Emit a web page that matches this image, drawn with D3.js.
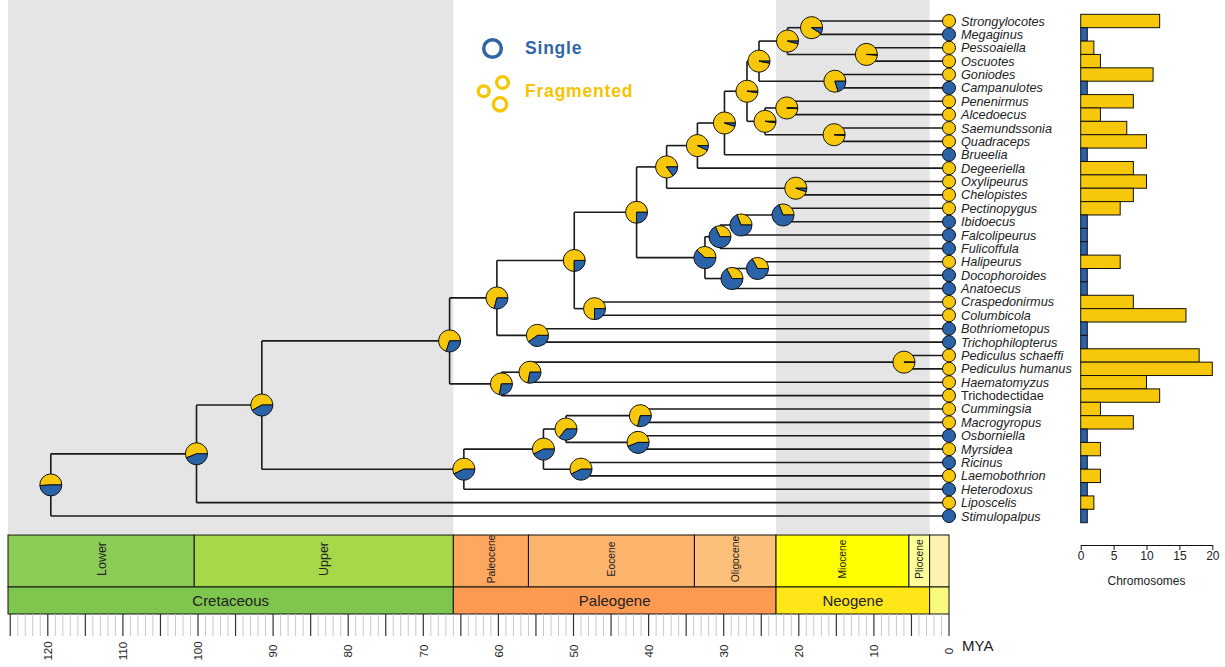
<!DOCTYPE html>
<html>
<head>
<meta charset="utf-8">
<script src="https://cdn.jsdelivr.net/npm/d3@7"></script>
<style>
  body { margin: 0; background: #fff; }
  svg { font-family: "Liberation Sans", Arial, sans-serif; }
</style>
</head>
<body>
<svg width="1225" height="667"></svg>
<script>
// tips, top to bottom
var tipNames = ['Strongylocotes', 'Megaginus', 'Pessoaiella', 'Oscuotes', 'Goniodes',
    'Campanulotes', 'Penenirmus', 'Alcedoecus', 'Saemundssonia', 'Quadraceps', 'Brueelia',
    'Degeeriella', 'Oxylipeurus', 'Chelopistes', 'Pectinopygus', 'Ibidoecus', 'Falcolipeurus',
    'Fulicoffula', 'Halipeurus', 'Docophoroides', 'Anatoecus', 'Craspedonirmus', 'Columbicola',
    'Bothriometopus', 'Trichophilopterus', 'Pediculus schaeffi', 'Pediculus humanus',
    'Haematomyzus', 'Trichodectidae', 'Cummingsia', 'Macrogyropus', 'Osborniella', 'Myrsidea',
    'Ricinus', 'Laemobothrion', 'Heterodoxus', 'Liposcelis', 'Stimulopalpus'];
var chromosomes = [12, 1, 2, 3, 11, 1, 8, 3, 7, 10, 1, 8, 10, 8, 6, 1, 1, 1, 6, 1, 1, 8, 16,
    1, 1, 18, 20, 10, 12, 3, 8, 1, 3, 1, 3, 1, 2, 1];
// S = single, F = fragmented
var tipState = ['F', 'S', 'F', 'F', 'F', 'S', 'F', 'F', 'F', 'F', 'S', 'F', 'F', 'F', 'F', 'S',
    'S', 'S', 'F', 'S', 'S', 'F', 'F', 'S', 'S', 'F', 'F', 'F', 'F', 'F', 'F', 'S', 'F', 'S',
    'F', 'S', 'F', 'S'];
var notItalic = ['Trichodectidae'];

// internal nodes: [node, child, child]
var clades = [
    ['n1', 'n2', 'Stimulopalpus'], ['n2', 'n3', 'Liposcelis'], ['n3', 'n4', 'n32'],
    ['n4', 'n5', 'n29'], ['n5', 'n6', 'n28'], ['n6', 'n7', 'n27'], ['n7', 'n8', 'n21'],
    ['n8', 'n9', 'n20'], ['n9', 'n10', 'Degeeriella'], ['n10', 'n11', 'Brueelia'],
    ['n11', 'n12', 'n17'], ['n12', 'n13', 'n16'], ['n13', 'n14', 'n15'],
    ['n14', 'Strongylocotes', 'Megaginus'], ['n15', 'Pessoaiella', 'Oscuotes'],
    ['n16', 'Goniodes', 'Campanulotes'], ['n17', 'n18', 'n19'],
    ['n18', 'Penenirmus', 'Alcedoecus'], ['n19', 'Saemundssonia', 'Quadraceps'],
    ['n20', 'Oxylipeurus', 'Chelopistes'], ['n21', 'n22', 'n25'], ['n22', 'n23', 'Fulicoffula'],
    ['n23', 'n24', 'Falcolipeurus'], ['n24', 'Pectinopygus', 'Ibidoecus'],
    ['n25', 'n26', 'Anatoecus'], ['n26', 'Halipeurus', 'Docophoroides'],
    ['n27', 'Craspedonirmus', 'Columbicola'], ['n28', 'Bothriometopus', 'Trichophilopterus'],
    ['n29', 'n30', 'Trichodectidae'], ['n30', 'n31', 'Haematomyzus'],
    ['n31', 'Pediculus schaeffi', 'Pediculus humanus'], ['n32', 'n33', 'Heterodoxus'],
    ['n33', 'n34', 'n37'], ['n34', 'n35', 'n36'], ['n35', 'Cummingsia', 'Macrogyropus'],
    ['n36', 'Osborniella', 'Myrsidea'], ['n37', 'Ricinus', 'Laemobothrion']
];
// node ages (MYA), same order as clades
var nodeAge = [119.6, 100.2, 91.5, 66.5, 60.2, 49.9, 41.6, 37.6, 33.5, 29.9, 26.9, 25.3, 21.5,
    18.3, 11.0, 15.2, 24.5, 21.6, 15.3, 20.4, 32.5, 30.5, 27.7, 22.1, 28.9, 25.5, 47.2, 54.8,
    59.6, 55.8, 6.0, 64.6, 54.0, 51.0, 41.1, 41.4, 49.0];
// probability of fragmented state at each node
var nodeFragmented = [0.51, 0.56, 0.58, 0.70, 0.71, 0.75, 0.75, 0.85, 0.93, 0.95, 0.98, 0.97,
    0.96, 0.91, 0.99, 0.80, 0.98, 0.99, 0.99, 0.95, 0.38, 0.32, 0.31, 0.31, 0.33, 0.33, 0.75,
    0.60, 0.72, 0.72, 0.995, 0.57, 0.575, 0.645, 0.71, 0.56, 0.575];

// geologic timescale
var epochNames = ['Lower', 'Upper', 'Paleocene', 'Eocene', 'Oligocene', 'Miocene', 'Pliocene', ''];
var epochStart = [145, 100.5, 66, 56, 33.9, 23.03, 5.333, 2.58];
var epochEnd = [100.5, 66, 56, 33.9, 23.03, 5.333, 2.58, 0];
var epochColor = ['#8CCD57', '#A6D84A', '#FDA75F', '#FDB46C', '#FDC07A', '#FFFF00', '#FFFF99', '#FFF2AE'];
var periodNames = ['Cretaceous', 'Paleogene', 'Neogene', ''];
var periodStart = [145, 66, 23.03, 2.58];
var periodEnd = [66, 23.03, 2.58, 0];
var periodColor = ['#7FC64E', '#FD9A52', '#FFE619', '#F9F97F'];
var shadedPeriods = [0, 2];

var chromTicks = [0, 5, 10, 15, 20];

var YELLOW = '#F6C70A';
var BLUE = '#2B63A9';

var svg = d3.select('svg');

var xScale = d3.scaleLinear().domain([125.3, 0]).range([8, 949]);
var yScale = d3.scaleLinear().domain([0, tipNames.length - 1]).range([21, 516]);
var rowH = yScale(1) - yScale(0);
var chromScale = d3.scaleLinear().domain([0, 20]).range([1080.7, 1212.3]);

function clampAge(t) { return Math.min(t, xScale.domain()[0]); }

// shaded background bands
svg.append('g').selectAll('rect')
    .data(shadedPeriods)
    .enter()
    .append('rect')
    .attr('x', function(i) { return xScale(clampAge(periodStart[i])); })
    .attr('y', 0)
    .attr('width', function(i) { return xScale(periodEnd[i]) - xScale(clampAge(periodStart[i])); })
    .attr('height', 534)
    .attr('fill', '#E5E5E5');

// build tree
var rows = [{ id: 'n1', parentId: null }];
clades.forEach(function(c) {
    rows.push({ id: c[1], parentId: c[0] });
    rows.push({ id: c[2], parentId: c[0] });
});
var root = d3.stratify()(rows);
var cladeIndex = {};
clades.forEach(function(c, i) { cladeIndex[c[0]] = i; });

root.eachAfter(function(d) {
    if (d.children) {
        var i = cladeIndex[d.id];
        d.age = nodeAge[i];
        d.frag = nodeFragmented[i];
        d.py = d3.mean(d.children, function(c) { return c.py; });
    } else {
        var k = tipNames.indexOf(d.id);
        d.age = 0;
        d.tip = k;
        d.py = yScale(k);
    }
    d.px = xScale(d.age);
});

var branchG = svg.append('g')
    .attr('fill', 'none')
    .attr('stroke', '#1a1a1a')
    .attr('stroke-width', 1.6);

root.descendants().forEach(function(d) {
    if (!d.children) return;
    var ys = d.children.map(function(c) { return c.py; });
    branchG.append('line')
        .attr('x1', d.px).attr('x2', d.px)
        .attr('y1', d3.min(ys)).attr('y2', d3.max(ys));
    d.children.forEach(function(c) {
        branchG.append('line')
            .attr('x1', d.px).attr('x2', c.px)
            .attr('y1', c.py).attr('y2', c.py);
    });
});

// pies at internal nodes
var arc = d3.arc().innerRadius(0).outerRadius(11);
var pieG = svg.append('g');
root.descendants().filter(function(d) { return d.children; }).forEach(function(d) {
    var g = pieG.append('g').attr('transform', 'translate(' + d.px + ',' + d.py + ')');
    var a0 = Math.PI / 2 - 2 * Math.PI * d.frag;
    g.append('path')
        .attr('d', arc({ startAngle: a0, endAngle: Math.PI / 2 }))
        .attr('fill', YELLOW)
        .attr('stroke', '#111')
        .attr('stroke-width', 1);
    g.append('path')
        .attr('d', arc({ startAngle: Math.PI / 2, endAngle: a0 + 2 * Math.PI }))
        .attr('fill', BLUE)
        .attr('stroke', '#111')
        .attr('stroke-width', 1);
});

// tip circles + labels
var tipG = svg.append('g');
tipG.selectAll('circle')
    .data(tipNames)
    .enter()
    .append('circle')
    .attr('cx', xScale(0))
    .attr('cy', function(d, i) { return yScale(i); })
    .attr('r', 6.5)
    .attr('fill', function(d, i) { return tipState[i] === 'F' ? YELLOW : BLUE; })
    .attr('stroke', '#111')
    .attr('stroke-width', 1);

tipG.selectAll('text')
    .data(tipNames)
    .enter()
    .append('text')
    .attr('x', 961)
    .attr('y', function(d, i) { return yScale(i) + 4.5; })
    .attr('font-size', 12.7)
    .attr('font-style', function(d) { return notItalic.indexOf(d) >= 0 ? 'normal' : 'italic'; })
    .attr('fill', '#222')
    .text(function(d) { return d; });

// chromosome bars
var barG = svg.append('g');
barG.selectAll('rect')
    .data(chromosomes)
    .enter()
    .append('rect')
    .attr('x', chromScale(0))
    .attr('y', function(d, i) { return yScale(i) - rowH / 2; })
    .attr('width', function(d) { return chromScale(d) - chromScale(0); })
    .attr('height', rowH)
    .attr('fill', function(d, i) { return tipState[i] === 'F' ? YELLOW : BLUE; })
    .attr('stroke', '#111')
    .attr('stroke-width', 1);

var chromAxis = svg.append('g')
    .attr('transform', 'translate(0,545)')
    .call(d3.axisBottom(chromScale).tickValues(chromTicks).tickSize(5).tickSizeOuter(0));
chromAxis.select('.domain').attr('stroke', '#111');
chromAxis.selectAll('.tick line').attr('stroke', '#111');
chromAxis.selectAll('.tick text')
    .attr('font-family', '"Liberation Sans", Arial, sans-serif')
    .attr('font-size', 12).attr('fill', '#222').attr('dy', '0.6em');
svg.append('text')
    .attr('x', (chromScale(0) + chromScale(20)) / 2)
    .attr('y', 585)
    .attr('text-anchor', 'middle')
    .attr('font-size', 12)
    .attr('fill', '#222')
    .text('Chromosomes');

// timescale: epochs
var tsG = svg.append('g');
epochNames.forEach(function(name, i) {
    var x0 = xScale(clampAge(epochStart[i]));
    var x1 = xScale(epochEnd[i]);
    tsG.append('rect')
        .attr('x', x0).attr('y', 535)
        .attr('width', x1 - x0).attr('height', 52)
        .attr('fill', epochColor[i])
        .attr('stroke', '#111').attr('stroke-width', 1);
    if (name) {
        var fs = (name === 'Lower' || name === 'Upper') ? 12.5 : 10.3;
        var cx = (x0 + x1) / 2 + fs * 0.36;
        tsG.append('text')
            .attr('transform', 'translate(' + cx + ',559) rotate(-90)')
            .attr('text-anchor', 'middle')
            .attr('font-size', fs)
            .attr('fill', '#222')
            .text(name);
    }
});
periodNames.forEach(function(name, i) {
    var x0 = xScale(clampAge(periodStart[i]));
    var x1 = xScale(periodEnd[i]);
    tsG.append('rect')
        .attr('x', x0).attr('y', 587)
        .attr('width', x1 - x0).attr('height', 27)
        .attr('fill', periodColor[i])
        .attr('stroke', '#111').attr('stroke-width', 1);
    if (name) {
        tsG.append('text')
            .attr('x', (x0 + x1) / 2).attr('y', 606)
            .attr('text-anchor', 'middle')
            .attr('font-size', 15)
            .attr('fill', '#222')
            .text(name);
    }
});

// MYA axis
var ages = d3.range(0, 126);
var tickG = svg.append('g');
tickG.selectAll('line')
    .data(ages)
    .enter()
    .append('line')
    .attr('x1', function(d) { return xScale(d); })
    .attr('x2', function(d) { return xScale(d); })
    .attr('y1', 614)
    .attr('y2', 636)
    .attr('stroke', function(d) { return d % 5 === 0 ? '#333' : '#C8C8C8'; })
    .attr('stroke-width', function(d) { return d % 5 === 0 ? 1.2 : 1; });
tickG.selectAll('text')
    .data(ages.filter(function(d) { return d % 10 === 0; }))
    .enter()
    .append('text')
    .attr('transform', function(d) { return 'translate(' + (xScale(d) + 4.2) + ',651) rotate(-90)'; })
    .attr('text-anchor', 'middle')
    .attr('font-size', 11.5)
    .attr('fill', '#222')
    .text(function(d) { return d; });
svg.append('text')
    .attr('x', 962).attr('y', 651)
    .attr('font-size', 15)
    .attr('fill', '#222')
    .text('MYA');

// legend
var legG = svg.append('g').attr('font-weight', 'bold').attr('font-size', 17.5)
    .attr('letter-spacing', 0.8);
legG.append('circle')
    .attr('cx', 492.5).attr('cy', 48.5).attr('r', 8.8)
    .attr('fill', 'none').attr('stroke', '#2F64A5').attr('stroke-width', 3.5);
legG.append('text')
    .attr('x', 525).attr('y', 54)
    .attr('fill', '#3366A8')
    .text('Single');
[[483.7, 91.3, 5.4], [502.5, 82.5, 5.9], [500, 104.3, 6.7]].forEach(function(c) {
    legG.append('circle')
        .attr('cx', c[0]).attr('cy', c[1]).attr('r', c[2])
        .attr('fill', 'none').attr('stroke', '#F8C600').attr('stroke-width', 3.3);
});
legG.append('text')
    .attr('x', 525).attr('y', 97)
    .attr('fill', '#F5C400')
    .text('Fragmented');
</script>
</body>
</html>
